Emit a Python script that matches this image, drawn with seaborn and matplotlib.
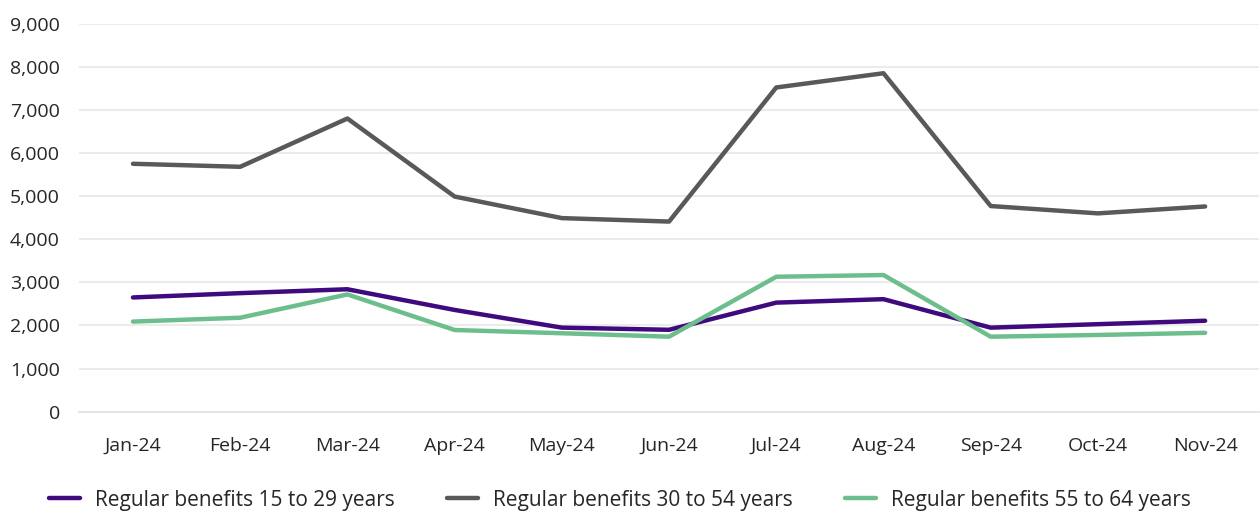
import matplotlib
matplotlib.use("Agg")
import matplotlib.pyplot as plt
import seaborn as sns
import pandas as pd
from matplotlib.ticker import FuncFormatter, FixedLocator

months = ["Jan-24", "Feb-24", "Mar-24", "Apr-24", "May-24", "Jun-24",
          "Jul-24", "Aug-24", "Sep-24", "Oct-24", "Nov-24"]
series_names = ["Regular benefits 15 to 29 years",
                "Regular benefits 30 to 54 years",
                "Regular benefits 55 to 64 years"]
age_15_29 = [2650, 2750, 2840, 2360, 1950, 1900, 2530, 2610, 1950, 2030, 2110]
age_30_54 = [5750, 5680, 6800, 4990, 4490, 4410, 7520, 7850, 4770, 4600, 4760]
age_55_64 = [2090, 2180, 2720, 1895, 1820, 1740, 3130, 3170, 1740, 1780, 1830]
colors = ["#3f0a7e", "#595959", "#6cbf8c"]

rows = []
for name, vals in zip(series_names, [age_15_29, age_30_54, age_55_64]):
    for i, (m, v) in enumerate(zip(months, vals)):
        rows.append({"idx": i, "month": m, "value": v, "series": name})
df = pd.DataFrame(rows)

sns.set_style("white")
plt.rcParams['font.family'] = ['Open Sans', 'DejaVu Sans']

fig = plt.figure(figsize=(12.6, 5.14), dpi=100)
ax = fig.add_axes([0.063, 0.199, 0.936, 0.755])

sns.lineplot(data=df, x="idx", y="value", hue="series", palette=colors,
             linewidth=3.2, ax=ax, legend=True, solid_capstyle="round")

ax.set_xlim(-0.5, len(months) - 0.5)
ax.set_ylim(0, 9000)
ax.set_yticks(range(0, 9001, 1000))
ax.yaxis.set_major_formatter(FuncFormatter(lambda v, p: f"{int(v):,}"))
ax.grid(axis="y", color="#ebebeb", linewidth=1.5)
ax.set_axisbelow(True)

ax.xaxis.set_major_locator(FixedLocator(range(len(months))))
ax.set_xticklabels(months)
ax.xaxis.set_minor_locator(FixedLocator([i - 0.5 for i in range(len(months) + 1)]))
ax.tick_params(axis="x", which="major", length=0, pad=18, labelsize=14, colors="#262626")
ax.tick_params(axis="x", which="minor", length=8, width=1.5, color="#e6e6e6")
ax.tick_params(axis="y", length=0, pad=14, labelsize=14, colors="#262626")
for s in ["top", "right", "left"]:
    ax.spines[s].set_visible(False)
ax.spines["bottom"].set_color("#e6e6e6")
ax.spines["bottom"].set_linewidth(1.5)
ax.set_xlabel("")
ax.set_ylabel("")

handles, labels = ax.get_legend_handles_labels()
ax.get_legend().remove()
fig.legend(handles, labels, loc="center left", bbox_to_anchor=(0.024, 0.027),
           ncol=3, frameon=False, fontsize=15, handlelength=1.5,
           handletextpad=0.72, columnspacing=2.5, labelcolor="#262626")

fig.savefig("out.png", dpi=100)
